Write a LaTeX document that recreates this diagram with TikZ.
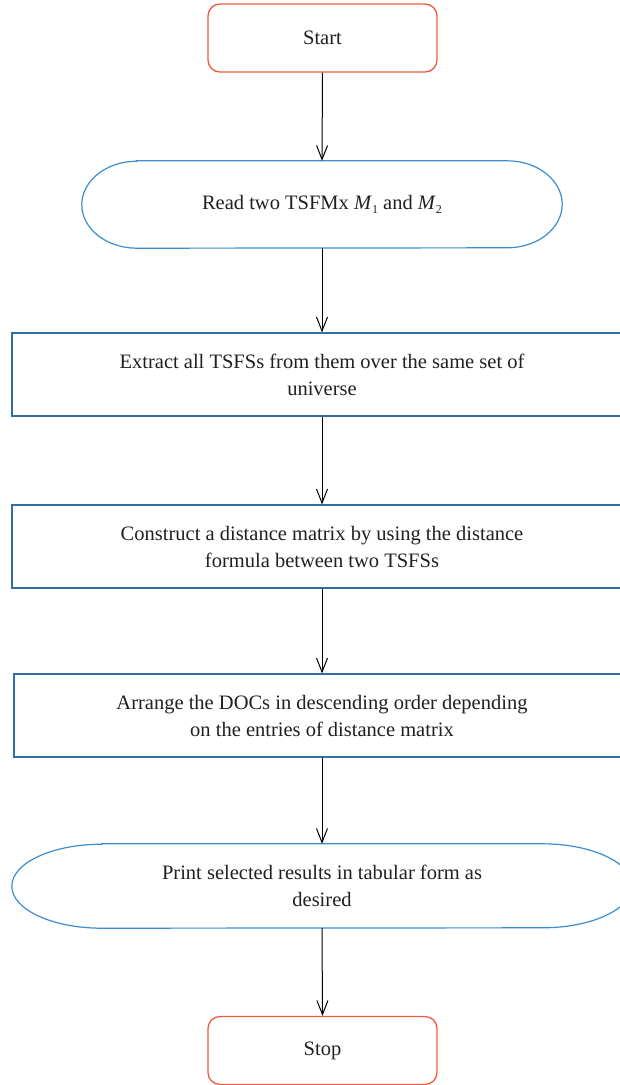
\documentclass[tikz,border=0pt]{standalone}
\usepackage{fontspec}
\setmainfont{Liberation Serif}
\usetikzlibrary{arrows.meta}
\definecolor{termred}{HTML}{EE5B3F}
\definecolor{ioblue}{HTML}{3A8DD0}
\definecolor{procblue}{HTML}{2F6FA6}
\definecolor{txt}{HTML}{231F20}
\newcommand{\Msub}[1]{\textit{M}\raisebox{-0.4ex}{\fontsize{12}{12}\selectfont #1}}
\tikzset{
  every node/.style={text=txt, font=\fontsize{20.5}{27}\selectfont, align=center},
  term/.style={draw=termred, line width=1.3pt, rounded corners=12pt, minimum width=229pt, minimum height=68pt, inner sep=0pt},
  proc/.style={draw=procblue, line width=1.2pt, minimum height=83pt, inner sep=0pt},
  iotext/.style={draw=none, inner sep=0pt},
  ioline/.style={draw=ioblue, line width=1.2pt},
  flow/.style={draw=black, line width=1pt, -{Straight Barb[length=14pt,width=11pt,line width=1pt]}}
}
\begin{document}
\begin{tikzpicture}[x=1pt,y=1pt]
\useasboundingbox (0,0) rectangle (620,-1085);
\clip (0,0) rectangle (620,-1085);
% nodes
\node[term] (start) at (322.5,-38) {Start};
\node[iotext, minimum width=480pt, minimum height=87pt] (read) at (322,-204.5) {Read two TSFMx \Msub{1} and \Msub{2}};
\node[proc, minimum width=620pt] (extract) at (322,-374.5) {Extract all TSFSs from them over the same set of\\universe};
\node[proc, minimum width=620pt] (construct) at (322,-546.5) {Construct a distance matrix by using the distance\\formula between two TSFSs};
\node[proc, minimum width=616pt] (arrange) at (322,-715.5) {Arrange the DOCs in descending order depending\\on the entries of distance matrix};
\node[iotext, minimum width=620pt, minimum height=84pt] (print) at (322,-886) {Print selected results in tabular form as\\desired};
\node[term] (stop) at (322.5,-1050.5) {Stop};
% stadium outlines
\draw[ioline] ([xshift=55pt]read.north west) -- ([xshift=-55pt]read.north east)
  arc[start angle=90, end angle=-90, x radius=55pt, y radius=43.5pt]
  -- ([xshift=55pt]read.south west)
  arc[start angle=270, end angle=90, x radius=55pt, y radius=43.5pt] -- cycle;
\draw[ioline] ([xshift=90pt]print.north west) -- ([xshift=-90pt]print.north east)
  arc[start angle=90, end angle=-90, x radius=90pt, y radius=42pt]
  -- ([xshift=90pt]print.south west)
  arc[start angle=270, end angle=90, x radius=90pt, y radius=42pt] -- cycle;
% connectors
\draw[flow] (start.south) -- (read.north);
\draw[flow] (read.south) -- (extract.north);
\draw[flow] (extract.south) -- (construct.north);
\draw[flow] (construct.south) -- (arrange.north);
\draw[flow] (arrange.south) -- (print.north);
\draw[flow] (print.south) -- (stop.north);
\end{tikzpicture}
\end{document}
